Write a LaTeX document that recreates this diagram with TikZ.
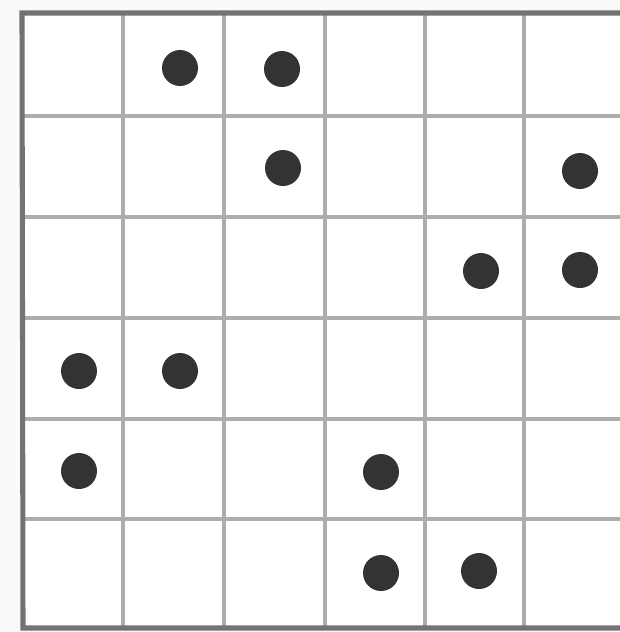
\documentclass[tikz,border=0pt]{standalone}
\begin{document}
\begin{tikzpicture}[x=0.75pt,y=-0.75pt,
  gridline/.style={draw=black!32,line width=2.6pt},
  borderline/.style={draw=black!55,line width=3.8pt},
  dot/.style={circle,fill=black!80,inner sep=0pt,minimum size=27pt}]
\useasboundingbox (0,0) rectangle (620,632);
\fill[black!2] (0,0) rectangle (620,632);
\fill[white] (22,13) rectangle (620,628);
% interior lines
\foreach \x in {123,224,325,425,524} \draw[gridline] (\x,13) -- (\x,628);
\foreach \y in {116,217,318,419,519} \draw[gridline] (22,\y) -- (620,\y);
% border
\draw[borderline] (625,13) -- (22,13) -- (23,628) -- (625,628);
% dots
\node[dot] (a1) at (180,68) {};
\node[dot] (a2) at (282,69) {};
\node[dot] (b1) at (283,168) {};
\node[dot] (b2) at (580,171) {};
\node[dot] (c1) at (481,271) {};
\node[dot] (c2) at (580,270) {};
\node[dot] (d1) at (79,371) {};
\node[dot] (d2) at (180,371) {};
\node[dot] (e1) at (79,471) {};
\node[dot] (e2) at (381,472) {};
\node[dot] (f1) at (381,573) {};
\node[dot] (f2) at (479,571) {};
\end{tikzpicture}
\end{document}
